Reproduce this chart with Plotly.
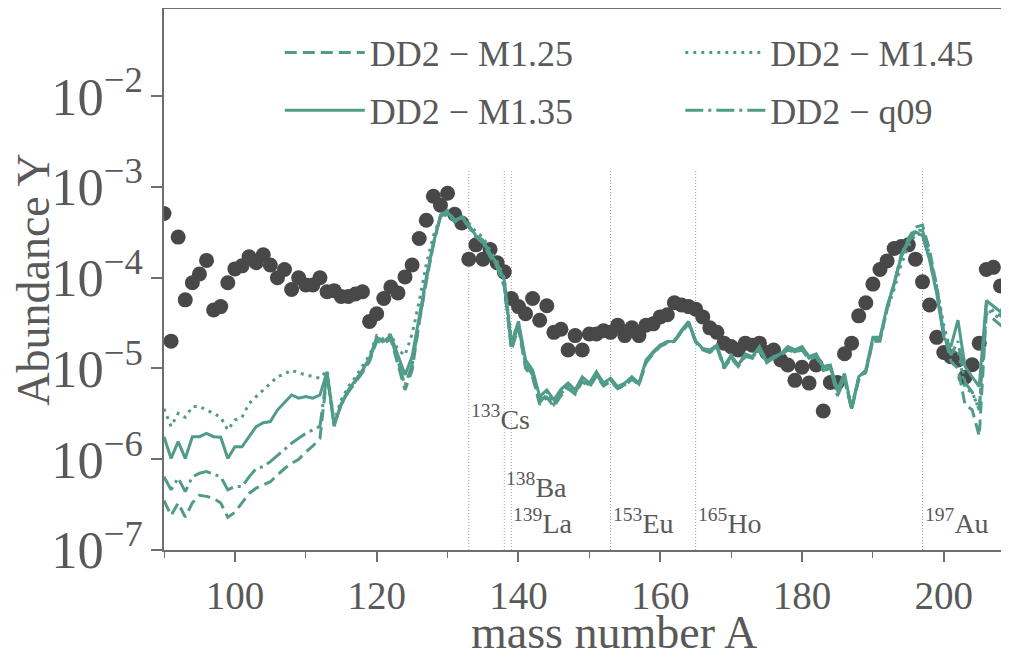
import plotly.graph_objects as go
import numpy as np

# ---------------- data ----------------
mass = list(range(90, 211))

m125 = [3.5e-7, 2.4e-7, 3.3e-7, 2.3e-7, 3.3e-7, 4.0e-7, 3.9e-7, 3.7e-7, 3.3e-7, 2.3e-7,
        2.6e-7, 3.3e-7, 4.2e-7, 4.8e-7, 5.2e-7, 5.65e-7, 6.7e-7, 7.9e-7, 9.0e-7, 1.0e-6,
        1.2e-6, 1.4e-6, 1.7e-6,
        8.5e-6, 2.5e-6, 4.0e-6, 5.5e-6, 7.0e-6, 9.0e-6, 1.2e-5, 2.0e-5, 1.9e-5, 2.1e-5,
        1.1e-5, 5.8e-6, 9.5e-6, 3.2e-5, 9.0e-5, 2.3e-4, 4.9e-4, 5.5e-4, 4.3e-4, 4.6e-4,
        3.6e-4, 2.8e-4, 2.4e-4, 1.7e-4, 1.3e-4, 8.0e-5, 1.6e-5, 2.8e-5, 1.0e-5, 8.0e-6,
        4.0e-6, 4.8e-6, 3.8e-6, 5.0e-6, 6.0e-6, 5.2e-6, 7.2e-6, 6.2e-6, 8.2e-6, 6.4e-6,
        7.2e-6, 6.0e-6, 6.5e-6, 7.6e-6, 6.6e-6, 1.15e-5, 1.45e-5, 1.75e-5, 1.9e-5, 2.0e-5,
        2.5e-5, 3.1e-5, 1.95e-5, 1.6e-5, 1.5e-5, 1.7e-5, 1.0e-5, 1.3e-5, 1.05e-5, 1.35e-5,
        1.3e-5, 1.6e-5, 1.15e-5, 1.3e-5, 1.4e-5, 1.6e-5, 1.5e-5, 1.6e-5, 1.25e-5, 1.35e-5,
        9.5e-6, 1.0e-5, 5.0e-6, 7.5e-6, 3.5e-6, 7.5e-6, 9.0e-6, 2.0e-5, 2.0e-5, 4.5e-5,
        8.5e-5, 1.8e-4, 2.7e-4, 3.6e-4, 3.8e-4, 2.0e-4, 8.0e-5, 2.5e-5, 1.2e-5, 1.0e-5,
        4.0e-6, 3.5e-6, 1.8e-6, 4.0e-5, 3.5e-5, 3.0e-5, 5.0e-5, 1e-9]

m135 = [1.77e-6, 1.02e-6, 1.56e-6, 1.02e-6, 1.77e-6, 1.77e-6, 1.93e-6, 1.77e-6, 1.75e-6, 1.02e-6,
        1.37e-6, 1.37e-6, 1.77e-6, 2.28e-6, 2.52e-6, 2.6e-6, 3.48e-6, 4.2e-6, 5.1e-6, 4.7e-6,
        4.9e-6, 4.7e-6, 5.1e-6,
        9.2e-6, 2.3e-6, 4.1e-6, 5.8e-6, 7.4e-6, 9.6e-6, 1.3e-5, 2.2e-5, 2.0e-5, 2.3e-5,
        1.4e-5, 8.5e-6, 1.35e-5, 3.7e-5, 1.0e-4, 2.4e-4, 4.7e-4, 5.3e-4, 4.1e-4, 4.7e-4,
        3.8e-4, 2.9e-4, 2.6e-4, 1.85e-4, 1.43e-4, 9.4e-5, 1.9e-5, 3.3e-5, 1.24e-5, 9.6e-6,
        4.9e-6, 5.8e-6, 4.5e-6, 5.9e-6, 6.9e-6, 5.8e-6, 8.1e-6, 6.9e-6, 9.2e-6, 6.9e-6,
        7.8e-6, 6.3e-6, 6.9e-6, 8.1e-6, 6.9e-6, 1.24e-5, 1.53e-5, 1.81e-5, 1.98e-5, 2.0e-5,
        2.65e-5, 3.3e-5, 2.0e-5, 1.66e-5, 1.6e-5, 1.81e-5, 1.05e-5, 1.4e-5, 1.09e-5, 1.45e-5,
        1.35e-5, 1.74e-5, 1.2e-5, 1.35e-5, 1.45e-5, 1.74e-5, 1.6e-5, 1.74e-5, 1.35e-5, 1.45e-5,
        1.05e-5, 1.09e-5, 5.8e-6, 8.8e-6, 3.6e-6, 8.1e-6, 9.6e-6, 2.2e-5, 2.2e-5, 4.8e-5,
        8.7e-5, 1.7e-4, 2.46e-4, 3.2e-4, 2.9e-4, 1.56e-4, 6.7e-5, 2.2e-5, 1.74e-5, 3.4e-5,
        1.05e-5, 8.1e-6, 6.3e-6, 5.6e-5, 4.8e-5, 4.2e-5, 6.0e-5, 1e-9]

m145 = [3.6e-6, 2.3e-6, 3.2e-6, 2.9e-6, 3.8e-6, 3.8e-6, 3.5e-6, 3.2e-6, 2.9e-6, 2.1e-6,
        2.7e-6, 2.9e-6, 4.1e-6, 4.9e-6, 5.8e-6, 6.8e-6, 8.1e-6, 8.7e-6, 9.6e-6, 8.9e-6,
        8.5e-6, 8.1e-6, 7.8e-6,
        9.5e-6, 2.6e-6, 4.5e-6, 6.3e-6, 8.0e-6, 1.05e-5, 1.4e-5, 2.3e-5, 2.1e-5, 2.4e-5,
        1.6e-5, 1.4e-5, 2.4e-5, 5.5e-5, 1.4e-4, 2.9e-4, 4.6e-4, 5.0e-4, 4.2e-4, 4.8e-4,
        4.0e-4, 3.2e-4, 2.8e-4, 2.0e-4, 1.5e-4, 1.0e-4, 2.1e-5, 3.0e-5, 1.2e-5, 9.0e-6,
        4.5e-6, 5.5e-6, 4.2e-6, 5.5e-6, 6.5e-6, 5.5e-6, 7.6e-6, 6.5e-6, 8.6e-6, 6.6e-6,
        7.4e-6, 6.1e-6, 6.7e-6, 7.8e-6, 6.8e-6, 1.2e-5, 1.5e-5, 1.8e-5, 1.95e-5, 2.05e-5,
        2.6e-5, 3.2e-5, 2.0e-5, 1.65e-5, 1.55e-5, 1.75e-5, 1.05e-5, 1.35e-5, 1.1e-5, 1.4e-5,
        1.3e-5, 1.7e-5, 1.2e-5, 1.3e-5, 1.45e-5, 1.7e-5, 1.55e-5, 1.7e-5, 1.3e-5, 1.4e-5,
        1.0e-5, 1.05e-5, 5.5e-6, 8.0e-6, 3.8e-6, 8.0e-6, 9.5e-6, 2.1e-5, 2.1e-5, 4.4e-5,
        7.5e-5, 1.4e-4, 2.2e-4, 3.0e-4, 3.0e-4, 1.8e-4, 8.0e-5, 3.0e-5, 1.5e-5, 1.6e-5,
        6.0e-6, 5.5e-6, 3.5e-6, 4.5e-5, 4.0e-5, 3.5e-5, 5.5e-5, 1e-9]

q09 = [6.4e-7, 4.6e-7, 6.2e-7, 4.4e-7, 6.4e-7, 7.0e-7, 7.3e-7, 6.8e-7, 6.4e-7, 4.6e-7,
       5.0e-7, 5.0e-7, 6.4e-7, 7.9e-7, 8.3e-7, 9.4e-7, 1.1e-6, 1.27e-6, 1.5e-6, 1.7e-6,
       1.93e-6, 2.1e-6, 2.3e-6,
       8.8e-6, 2.4e-6, 4.0e-6, 5.6e-6, 7.2e-6, 9.3e-6, 1.25e-5, 2.1e-5, 1.95e-5, 2.2e-5,
       1.2e-5, 6.5e-6, 1.1e-5, 3.4e-5, 9.5e-5, 2.35e-4, 4.8e-4, 5.4e-4, 4.2e-4, 4.6e-4,
       3.7e-4, 2.85e-4, 2.5e-4, 1.8e-4, 1.35e-4, 8.5e-5, 1.7e-5, 3.0e-5, 1.1e-5, 8.5e-6,
       4.2e-6, 5.2e-6, 4.0e-6, 5.3e-6, 6.3e-6, 5.4e-6, 7.5e-6, 6.5e-6, 8.6e-6, 6.6e-6,
       7.4e-6, 6.1e-6, 6.6e-6, 7.8e-6, 6.7e-6, 1.18e-5, 1.48e-5, 1.78e-5, 1.92e-5, 2.0e-5,
       2.55e-5, 3.2e-5, 1.98e-5, 1.62e-5, 1.55e-5, 1.75e-5, 1.02e-5, 1.35e-5, 1.07e-5, 1.4e-5,
       1.3e-5, 1.65e-5, 1.18e-5, 1.32e-5, 1.42e-5, 1.65e-5, 1.52e-5, 1.65e-5, 1.3e-5, 1.4e-5,
       9.8e-6, 1.03e-5, 5.3e-6, 8.0e-6, 3.6e-6, 7.8e-6, 9.2e-6, 2.05e-5, 2.1e-5, 4.6e-5,
       8.6e-5, 1.75e-4, 2.6e-4, 3.4e-4, 3.3e-4, 1.8e-4, 7.5e-5, 2.4e-5, 1.4e-5, 2.0e-5,
       7.0e-6, 5.5e-6, 3.5e-6, 5.0e-5, 4.3e-5, 3.8e-5, 5.5e-5, 1e-9]

solar_A = list(range(90, 209))
solar_Y = [5.1e-4, 2.0e-5, 2.8e-4, 5.7e-5, 8.8e-5, 1.1e-4, 1.55e-4, 4.4e-5, 4.8e-5, 8.8e-5,
           1.25e-4, 1.35e-4, 1.7e-4, 1.46e-4, 1.79e-4, 1.38e-4, 1.0e-4, 1.23e-4, 7.4e-5, 1.0e-4,
           8.3e-5, 8.3e-5, 1.0e-4, 7.0e-5, 7.2e-5, 6.2e-5, 6.2e-5, 6.6e-5, 7.0e-5, 3.3e-5,
           4.0e-5, 5.9e-5, 7.9e-5, 6.8e-5, 1.02e-4, 1.38e-4, 2.7e-4, 4.3e-4, 7.9e-4, 6.3e-4,
           8.5e-4, 5.0e-4, 4.0e-4, 1.6e-4, 2.3e-4, 1.6e-4, 2.05e-4, 1.46e-4, 1.16e-4, 5.9e-5,
           4.8e-5, 4.0e-5, 5.9e-5, 3.4e-5, 4.9e-5, 2.5e-5, 2.7e-5, 1.6e-5, 2.3e-5, 1.6e-5,
           2.4e-5, 2.4e-5, 2.6e-5, 2.5e-5, 3.0e-5, 2.3e-5, 2.8e-5, 2.3e-5, 3.0e-5, 3.1e-5,
           3.7e-5, 3.9e-5, 5.3e-5, 5.0e-5, 4.8e-5, 4.5e-5, 3.7e-5, 2.8e-5, 2.5e-5, 1.9e-5,
           1.74e-5, 1.6e-5, 1.9e-5, 1.8e-5, 1.9e-5, 1.5e-5, 1.6e-5, 1.24e-5, 1.09e-5, 7.4e-6,
           1.03e-5, 6.9e-6, 1.09e-5, 3.4e-6, 7.0e-6, 7.0e-6, 1.45e-5, 1.9e-5, 3.8e-5, 5.3e-5,
           8.5e-5, 1.23e-4, 1.53e-4, 2.1e-4, 2.2e-4, 2.3e-4, 1.6e-4, 9.0e-5, 5.0e-5, 2.2e-5,
           1.5e-5, 1.35e-5, 1.24e-5, 8.0e-6, 1.1e-5, 1.9e-5, 1.23e-4, 1.3e-4, 8.1e-5]

iso_A = [133, 138, 139, 153, 165, 197]
iso_names = ["<sup>133</sup>Cs", "<sup>138</sup>Ba", "<sup>139</sup>La",
             "<sup>153</sup>Eu", "<sup>165</sup>Ho", "<sup>197</sup>Au"]
iso_label_y = [1.75e-6, 3.1e-7, 1.25e-7, 1.25e-7, 1.25e-7, 1.25e-7]
iso_line_y = [1e-7, 1.5e-3]

x_title = "mass number A"
y_title = "Abundance Y"

assert len(m125) == len(mass) and len(m135) == len(mass)
assert len(m145) == len(mass) and len(q09) == len(mass)
assert len(solar_Y) == len(solar_A)

# ---------------- styles ----------------
TEAL = "#519b8b"
GREY_TXT = "#595959"
FONT = "Liberation Serif"
PAGE_PAD = 8  # default browser body margin around the plot div

fig = go.Figure()

for A in iso_A:
    fig.add_trace(go.Scatter(x=[A, A], y=iso_line_y, mode="lines",
                             line=dict(color="#a0a0a0", width=1, dash="1px,2px"),
                             showlegend=False, hoverinfo="skip"))

fig.add_trace(go.Scatter(x=solar_A, y=solar_Y, mode="markers",
                         marker=dict(size=15, color="#484848", line=dict(width=0)),
                         showlegend=False))

series = [
    ("DD2 \u2212 M1.25", m125, "12px,6px", "legend"),
    ("DD2 \u2212 M1.35", m135, "solid", "legend"),
    ("DD2 \u2212 M1.45", m145, "3px,5px", "legend2"),
    ("DD2 \u2212 q09", q09, "18px,5px,3px,5px", "legend2"),
]
for name, vals, dash, leg in series:
    fig.add_trace(go.Scatter(x=mass, y=vals, mode="lines", name=name,
                             line=dict(color=TEAL, width=3, dash=dash),
                             legend=leg, legendgroup=name))

for A, txt, yv in zip(iso_A, iso_names, iso_label_y):
    fig.add_annotation(x=A, y=np.log10(yv), text=txt, showarrow=False,
                       xanchor="left", yanchor="bottom", xshift=0,
                       font=dict(family=FONT, size=28, color=GREY_TXT))

# x-axis title (centred like the reference, just under the tick labels)
fig.add_annotation(x=0.532, y=-0.152, xref="paper", yref="paper", text=x_title,
                   showarrow=False, xanchor="center", yanchor="middle",
                   font=dict(family=FONT, size=46, color=GREY_TXT))

legend_common = dict(xanchor="left", yanchor="top", bgcolor="rgba(0,0,0,0)",
                     font=dict(family=FONT, size=36, color=GREY_TXT),
                     tracegroupgap=8, itemwidth=80)

fig.update_layout(
    width=1009 - PAGE_PAD, height=660 - PAGE_PAD,
    margin=dict(l=164 - PAGE_PAD, r=0, t=9 - PAGE_PAD, b=110),
    paper_bgcolor="white", plot_bgcolor="white",
    legend=dict(x=0.137, y=0.975, **legend_common),
    legend2=dict(x=0.611, y=0.975, **legend_common),
    font=dict(family=FONT, color=GREY_TXT),
)

fig.update_xaxes(range=[90, 209.2], showgrid=False, zeroline=False,
                 showline=True, linecolor="#6e6e6e", linewidth=1.5, mirror=True,
                 ticks="outside", ticklen=10, tickwidth=1.5, tickcolor="#6e6e6e",
                 tick0=100, dtick=20,
                 minor=dict(dtick=10, tick0=90, ticklen=6, tickwidth=1.2,
                            tickcolor="#6e6e6e", ticks="outside"),
                 tickfont=dict(family=FONT, size=39, color=GREY_TXT),
                 automargin=False)

fig.update_yaxes(type="log", range=[-7, -1.04], showgrid=False, zeroline=False,
                 showline=True, linecolor="#6e6e6e", linewidth=1.5, mirror=True,
                 ticks="outside", ticklen=11, tickwidth=1.5, tickcolor="#6e6e6e",
                 dtick=1, exponentformat="power",
                 tickfont=dict(family=FONT, size=42, color=GREY_TXT),
                 title=dict(text=y_title, standoff=10,
                            font=dict(family=FONT, size=46, color=GREY_TXT)),
                 automargin=False)

fig.write_html("out.html")
